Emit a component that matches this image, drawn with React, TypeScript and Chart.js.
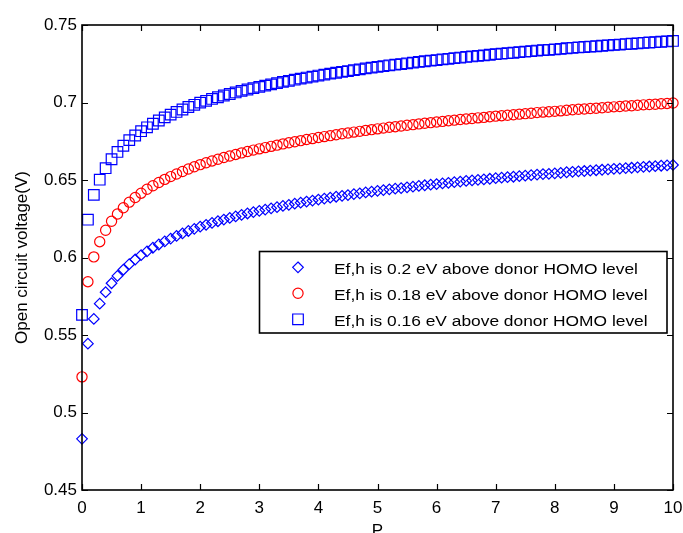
import React, { useEffect, useRef } from 'react';
import { Chart, registerables } from 'chart.js';

Chart.register(...registerables);

const pValues = [
  0, 0.1, 0.2, 0.3, 0.4, 0.5, 0.6, 0.7, 0.8, 0.9,
  1, 1.1, 1.2, 1.3, 1.4, 1.5, 1.6, 1.7, 1.8, 1.9,
  2, 2.1, 2.2, 2.3, 2.4, 2.5, 2.6, 2.7, 2.8, 2.9,
  3, 3.1, 3.2, 3.3, 3.4, 3.5, 3.6, 3.7, 3.8, 3.9,
  4, 4.1, 4.2, 4.3, 4.4, 4.5, 4.6, 4.7, 4.8, 4.9,
  5, 5.1, 5.2, 5.3, 5.4, 5.5, 5.6, 5.7, 5.8, 5.9,
  6, 6.1, 6.2, 6.3, 6.4, 6.5, 6.6, 6.7, 6.8, 6.9,
  7, 7.1, 7.2, 7.3, 7.4, 7.5, 7.6, 7.7, 7.8, 7.9,
  8, 8.1, 8.2, 8.3, 8.4, 8.5, 8.6, 8.7, 8.8, 8.9,
  9, 9.1, 9.2, 9.3, 9.4, 9.5, 9.6, 9.7, 9.8, 9.9,
  10,
];

// Ef,h 0.2 eV above donor HOMO (diamonds)
const vocEf020 = [
  0.4830, 0.5444, 0.5604, 0.5702, 0.5776, 0.5834, 0.5881, 0.5921, 0.5957, 0.5987,
  0.6015, 0.6040, 0.6063, 0.6084, 0.6104, 0.6122, 0.6139, 0.6155, 0.6171, 0.6185,
  0.6199, 0.6211, 0.6223, 0.6234, 0.6245, 0.6255, 0.6265, 0.6275, 0.6284, 0.6293,
  0.6301, 0.6309, 0.6317, 0.6325, 0.6333, 0.6340, 0.6347, 0.6354, 0.6361, 0.6367,
  0.6374, 0.6380, 0.6386, 0.6392, 0.6398, 0.6403, 0.6409, 0.6414, 0.6420, 0.6425,
  0.6430, 0.6435, 0.6440, 0.6444, 0.6448, 0.6453, 0.6457, 0.6462, 0.6466, 0.6470,
  0.6474, 0.6478, 0.6482, 0.6486, 0.6490, 0.6494, 0.6497, 0.6501, 0.6504, 0.6508,
  0.6512, 0.6515, 0.6518, 0.6521, 0.6525, 0.6528, 0.6531, 0.6535, 0.6538, 0.6540,
  0.6543, 0.6546, 0.6550, 0.6553, 0.6556, 0.6558, 0.6561, 0.6563, 0.6566, 0.6569,
  0.6572, 0.6574, 0.6577, 0.6579, 0.6582, 0.6585, 0.6587, 0.6589, 0.6592, 0.6594,
  0.6597,
];

// Ef,h 0.18 eV above donor HOMO (circles)
const vocEf018 = [
  0.5230, 0.5844, 0.6004, 0.6102, 0.6176, 0.6234, 0.6281, 0.6321, 0.6357, 0.6387,
  0.6415, 0.6440, 0.6463, 0.6484, 0.6504, 0.6522, 0.6539, 0.6555, 0.6571, 0.6585,
  0.6599, 0.6611, 0.6623, 0.6634, 0.6645, 0.6655, 0.6665, 0.6675, 0.6684, 0.6693,
  0.6701, 0.6709, 0.6717, 0.6725, 0.6733, 0.6740, 0.6747, 0.6754, 0.6761, 0.6767,
  0.6774, 0.6780, 0.6786, 0.6792, 0.6798, 0.6803, 0.6809, 0.6814, 0.6820, 0.6825,
  0.6830, 0.6835, 0.6840, 0.6844, 0.6848, 0.6853, 0.6857, 0.6862, 0.6866, 0.6870,
  0.6874, 0.6878, 0.6882, 0.6886, 0.6890, 0.6894, 0.6897, 0.6901, 0.6904, 0.6908,
  0.6912, 0.6915, 0.6918, 0.6921, 0.6925, 0.6928, 0.6931, 0.6935, 0.6938, 0.6940,
  0.6943, 0.6946, 0.6950, 0.6953, 0.6956, 0.6958, 0.6961, 0.6963, 0.6966, 0.6969,
  0.6972, 0.6974, 0.6977, 0.6979, 0.6982, 0.6985, 0.6987, 0.6989, 0.6992, 0.6994,
  0.6997,
];

// Ef,h 0.16 eV above donor HOMO (squares)
const vocEf016 = [
  0.5630, 0.6244, 0.6404, 0.6502, 0.6576, 0.6634, 0.6681, 0.6721, 0.6757, 0.6787,
  0.6815, 0.6840, 0.6863, 0.6884, 0.6904, 0.6922, 0.6939, 0.6955, 0.6971, 0.6985,
  0.6999, 0.7011, 0.7023, 0.7034, 0.7045, 0.7055, 0.7065, 0.7075, 0.7084, 0.7093,
  0.7101, 0.7109, 0.7117, 0.7125, 0.7133, 0.7140, 0.7147, 0.7154, 0.7161, 0.7167,
  0.7174, 0.7180, 0.7186, 0.7192, 0.7198, 0.7203, 0.7209, 0.7214, 0.7220, 0.7225,
  0.7230, 0.7235, 0.7240, 0.7244, 0.7248, 0.7253, 0.7257, 0.7262, 0.7266, 0.7270,
  0.7274, 0.7278, 0.7282, 0.7286, 0.7290, 0.7294, 0.7297, 0.7301, 0.7304, 0.7308,
  0.7312, 0.7315, 0.7318, 0.7321, 0.7325, 0.7328, 0.7331, 0.7335, 0.7338, 0.7340,
  0.7343, 0.7346, 0.7350, 0.7353, 0.7356, 0.7358, 0.7361, 0.7363, 0.7366, 0.7369,
  0.7372, 0.7374, 0.7377, 0.7379, 0.7382, 0.7385, 0.7387, 0.7389, 0.7392, 0.7394,
  0.7397,
];

const seriesLabels = [
  'Ef,h is 0.2 eV above donor HOMO level',
  'Ef,h is 0.18 eV above donor HOMO level',
  'Ef,h is 0.16 eV above donor HOMO level',
];

const xTickValues = [0, 1, 2, 3, 4, 5, 6, 7, 8, 9, 10];
const yTickValues = [0.45, 0.5, 0.55, 0.6, 0.65, 0.7, 0.75];
const xAxisTitle = 'P';
const yAxisTitle = 'Open circuit voltage(V)';

const FONT = '"Liberation Sans", Arial, Helvetica, sans-serif';
const BLUE = '#0000ff';
const RED = '#ff0000';

const markerStyles = [
  { shape: 'rectRot', radius: 5.3, color: BLUE },
  { shape: 'circle', radius: 5.1, color: RED },
  { shape: 'rect', radius: 7.5, color: BLUE },
];

function drawMarker(ctx: CanvasRenderingContext2D, shape: string, x: number, y: number, r: number, color: string) {
  ctx.save();
  ctx.strokeStyle = color;
  ctx.lineWidth = 1.2;
  ctx.beginPath();
  if (shape === 'rectRot') {
    ctx.moveTo(x, y - r);
    ctx.lineTo(x + r, y);
    ctx.lineTo(x, y + r);
    ctx.lineTo(x - r, y);
    ctx.closePath();
  } else if (shape === 'circle') {
    ctx.arc(x, y, r, 0, Math.PI * 2);
  } else {
    const h = r * Math.SQRT1_2;
    ctx.rect(x - h, y - h, 2 * h, 2 * h);
  }
  ctx.stroke();
  ctx.restore();
}

const frameTicksPlugin = {
  id: 'frameTicks',
  afterDatasetsDraw(chart: any) {
    const { ctx, chartArea } = chart;
    const { left, right, top, bottom } = chartArea;
    const xs = chart.scales.x;
    const ys = chart.scales.y;
    ctx.save();
    ctx.strokeStyle = '#000';
    ctx.lineWidth = 1.6;
    ctx.strokeRect(left, top, right - left, bottom - top);
    ctx.lineWidth = 1.2;
    const tl = 6;
    ctx.beginPath();
    xTickValues.forEach((v) => {
      const px = Math.round(xs.getPixelForValue(v)) + 0.5;
      ctx.moveTo(px, bottom);
      ctx.lineTo(px, bottom - tl);
      ctx.moveTo(px, top);
      ctx.lineTo(px, top + tl);
    });
    yTickValues.forEach((v) => {
      const py = Math.round(ys.getPixelForValue(v)) + 0.5;
      ctx.moveTo(left, py);
      ctx.lineTo(left + tl, py);
      ctx.moveTo(right, py);
      ctx.lineTo(right - tl, py);
    });
    ctx.stroke();
    ctx.restore();
  },
  afterDraw(chart: any) {
    const { ctx } = chart;
    const box = { left: 259.5, top: 251.5, right: 667, bottom: 333 };
    ctx.save();
    ctx.fillStyle = '#ffffff';
    ctx.fillRect(box.left, box.top, box.right - box.left, box.bottom - box.top);
    ctx.strokeStyle = '#000';
    ctx.lineWidth = 1.6;
    ctx.strokeRect(box.left, box.top, box.right - box.left, box.bottom - box.top);
    chart.data.datasets.forEach((ds: any, i: number) => {
      const rowY = 267.3 + i * 26;
      const m = markerStyles[i];
      drawMarker(ctx, m.shape, 298, rowY, m.radius, m.color);
      ctx.save();
      ctx.translate(334, rowY + 7);
      ctx.scale(1.24, 1);
      ctx.fillStyle = '#000';
      ctx.font = `14px ${FONT}`;
      ctx.textBaseline = 'alphabetic';
      ctx.textAlign = 'left';
      ctx.fillText(ds.label, 0, 0);
      ctx.restore();
    });
    ctx.restore();
  },
};

export default function App() {
  const canvasRef = useRef<HTMLCanvasElement | null>(null);

  useEffect(() => {
    const canvas = canvasRef.current;
    if (!canvas) return;
    const seriesValues = [vocEf020, vocEf018, vocEf016];
    const chart = new Chart(canvas, {
      type: 'scatter',
      data: {
        datasets: seriesValues.map((vals, i) => ({
          label: seriesLabels[i],
          data: pValues.map((p, j) => ({ x: p, y: vals[j] })),
          pointStyle: markerStyles[i].shape as any,
          pointRadius: markerStyles[i].radius,
          pointHoverRadius: markerStyles[i].radius,
          pointBorderColor: markerStyles[i].color,
          pointBackgroundColor: 'rgba(0,0,0,0)',
          pointBorderWidth: 1.2,
          borderColor: markerStyles[i].color,
          backgroundColor: 'rgba(0,0,0,0)',
          showLine: false,
          clip: false as any,
        })),
      },
      options: {
        responsive: false,
        animation: false,
        devicePixelRatio: 1,
        events: [],
        layout: { padding: { left: 0, right: 10, top: 25, bottom: 0 } },
        plugins: {
          legend: { display: false },
          tooltip: { enabled: false },
        },
        scales: {
          x: {
            type: 'linear',
            min: 0,
            max: 10,
            afterBuildTicks: (s: any) => {
              s.ticks = xTickValues.map((v) => ({ value: v }));
            },
            afterFit: (s: any) => {
              s.height = 43;
              s.paddingLeft = 0;
              s.paddingRight = 0;
            },
            grid: { display: false, drawTicks: false },
            border: { display: false },
            ticks: {
              color: '#000',
              font: { family: FONT, size: 17 },
              padding: 8,
              maxRotation: 0,
              autoSkip: false,
              callback: (v: any) => String(v),
            },
            title: {
              display: true,
              text: xAxisTitle,
              color: '#000',
              font: { family: FONT, size: 17 },
              padding: { top: 0, bottom: -8.5 },
            },
          },
          y: {
            type: 'linear',
            min: 0.45,
            max: 0.75,
            afterBuildTicks: (s: any) => {
              s.ticks = yTickValues.map((v) => ({ value: v }));
            },
            afterFit: (s: any) => {
              s.width = 82;
              s.paddingTop = 0;
              s.paddingBottom = 0;
            },
            grid: { display: false, drawTicks: false },
            border: { display: false },
            ticks: {
              color: '#000',
              font: { family: FONT, size: 17 },
              padding: 5,
              autoSkip: false,
              callback: (v: any) => Number(v).toFixed(2).replace(/0$/, ''),
            },
            title: {
              display: true,
              text: yAxisTitle,
              color: '#000',
              font: { family: FONT, size: 17 },
              padding: { top: 12.5, bottom: 0 },
            },
          },
        },
      },
      plugins: [frameTicksPlugin],
    });
    return () => chart.destroy();
  }, []);

  return (
    <div style={{ position: 'absolute', left: 0, top: 0, width: 683, height: 533, background: '#fff' }}>
      <canvas ref={canvasRef} width={683} height={533} style={{ display: 'block', width: 683, height: 533 }} />
    </div>
  );
}
